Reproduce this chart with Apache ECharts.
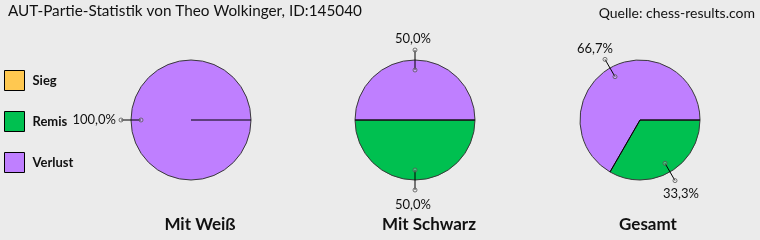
<!DOCTYPE html>
<html><head><meta charset="utf-8">
<script src="https://cdn.jsdelivr.net/npm/echarts@6/dist/echarts.min.js"></script>
<style>html,body{margin:0;padding:0;background:#ebebeb}#c{width:760px;height:240px}</style>
</head><body><div id="c"></div>
<script>
// ---- data ----
const categories = ['Sieg', 'Remis', 'Verlust'];
const pieTitles = ['Mit Weiß', 'Mit Schwarz', 'Gesamt'];
const weissValues = [0, 0, 1];
const schwarzValues = [0, 1, 1];
const gesamtValues = [0, 1, 2];
const mainTitle = 'AUT-Partie-Statistik von Theo Wolkinger, ID:145040';
const sourceText = 'Quelle: chess-results.com';

// ---- style ----
const colors = ['#ffc850', '#00c050', '#bf7fff'];
const FONT = 'Lato';
const centers = [[191, 120], [415, 120], [640, 120]];
const titleX = [200, 429, 648];
const R = 60, RIN = 50, ROUT = 70;
const allValues = [weissValues, schwarzValues, gesamtValues];

function fmt(p) { return p.percent.toFixed(1).replace('.', ',') + '%'; }

function labelLayout(p) {
  const pts = p.labelLinePoints;
  if (!pts || pts.length < 2) return {};
  const s = pts[0], e = pts[pts.length - 1];
  let ux = e[0] - s[0], uy = e[1] - s[1];
  const L = Math.hypot(ux, uy) || 1; ux /= L; uy /= L;
  if (Math.abs(uy) > 0.5) {
    return { x: e[0] + ux * 16 - 2, y: e[1] + uy * (uy < 0 ? 5 : 8), align: 'center',
      verticalAlign: uy < 0 ? 'bottom' : 'top', labelLinePoints: pts };
  }
  return { x: e[0] + ux * 5, y: e[1], align: ux < 0 ? 'right' : 'left',
    verticalAlign: 'middle', labelLinePoints: pts };
}

const series = [];
const polar = [], radiusAxis = [], angleAxis = [];
allValues.forEach((vals, i) => {
  const total = vals.reduce((a, b) => a + b, 0);
  series.push({
    type: 'pie', name: pieTitles[i], center: centers[i], radius: R, z: 2,
    startAngle: 0, clockwise: true, silent: true, animation: false,
    avoidLabelOverlap: false,
    label: { show: false }, labelLine: { show: false },
    itemStyle: { borderColor: '#3a3a3a', borderWidth: 1 },
    data: categories.map((c, k) => ({ name: c, value: vals[k], itemStyle: { color: colors[k] } }))
  });
  series.push({
    type: 'pie', name: pieTitles[i] + '-lbl', center: centers[i], radius: RIN, z: 4,
    startAngle: 0, clockwise: true, silent: true, animation: false,
    avoidLabelOverlap: false, legendHoverLink: false,
    itemStyle: { color: 'rgba(0,0,0,0)', borderWidth: 0 },
    label: { position: 'outside', formatter: fmt, color: '#111', fontFamily: FONT, fontSize: 13 },
    labelLine: { length: ROUT - RIN, length2: 0, smooth: false, lineStyle: { color: '#000', width: 1 } },
    labelLayout: labelLayout,
    data: categories.map((c, k) => ({ name: c, value: vals[k],
      label: { show: vals[k] > 0 }, labelLine: { show: vals[k] > 0 } }))
  });
  polar.push({ center: centers[i], radius: ROUT });
  radiusAxis.push({ polarIndex: i, min: 0, max: ROUT, show: false });
  angleAxis.push({ polarIndex: i, type: 'value', min: 0, max: 360, startAngle: 0, clockwise: true, show: false });
  const pts = [];
  let acc = 0;
  vals.forEach(v => {
    if (v > 0) {
      const start = acc / total * 360;
      const mid = (acc + v / 2) / total * 360;
      pts.push([RIN, mid], [ROUT, mid]);
      series.push({
        type: 'line', coordinateSystem: 'polar', polarIndex: i, silent: true, animation: false,
        symbol: 'none', z: 3, lineStyle: { color: '#000', width: 1 },
        data: [[0, start], [R, start]]
      });
    }
    acc += v;
  });
  series.push({
    type: 'scatter', coordinateSystem: 'polar', polarIndex: i, silent: true, animation: false,
    symbol: 'circle', symbolSize: 4, z: 5,
    itemStyle: { color: 'rgba(255,255,255,0.3)', borderColor: '#555', borderWidth: 1 },
    data: pts
  });
});

const titles = [
  { text: mainTitle, left: 8, top: 4, padding: 0, textStyle: { fontFamily: FONT, fontSize: 15.3, fontWeight: 'normal', color: '#111' } },
  { text: sourceText, right: 5, top: 6, padding: 0, textStyle: { fontFamily: FONT, fontSize: 14, fontWeight: 'normal', color: '#111' } }
];
pieTitles.forEach((t, i) => titles.push({ text: t, left: titleX[i], top: 216, padding: 0, textAlign: 'center',
  textStyle: { fontFamily: FONT, fontSize: 17, fontWeight: 'bold', color: '#111' } }));

const chart = echarts.init(document.getElementById('c'), null, { renderer: 'canvas' });
chart.setOption({
  backgroundColor: '#ebebeb',
  animation: false,
  title: titles,
  legend: {
    orient: 'vertical', left: 4, top: 70, padding: 0,
    itemWidth: 20, itemHeight: 20, itemGap: 20, icon: 'rect', selectedMode: false,
    itemStyle: { borderColor: '#000', borderWidth: 1 },
    textStyle: { fontFamily: FONT, fontSize: 13, fontWeight: 'bold', color: '#111', padding: [0, 0, 0, 3] },
    data: categories.map((c, k) => ({ name: c, itemStyle: { color: colors[k] } }))
  },
  polar: polar, radiusAxis: radiusAxis, angleAxis: angleAxis,
  series: series
});
</script></body></html>
